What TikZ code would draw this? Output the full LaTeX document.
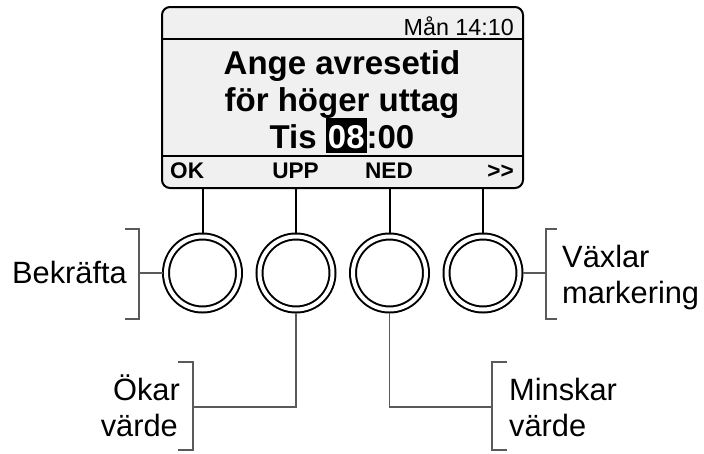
\documentclass[tikz,border=0pt]{standalone}
\usepackage{fontspec}
\setmainfont{Liberation Sans}
\definecolor{screenfill}{HTML}{F0F0F0}
\definecolor{brk}{HTML}{5A5A5A}
\newcommand\hlbox[1]{{\setlength{\fboxsep}{0pt}\colorbox{black}{\hspace{2pt}\rule[-5pt]{0pt}{35pt}\textcolor{white}{#1}\hspace{2pt}}}}
\begin{document}
\begin{tikzpicture}[x=1pt,y=-1pt,
  screenbox/.style={draw,line width=2pt,rounded corners=8pt,fill=screenfill,inner sep=0pt,minimum width=361pt,minimum height=181pt},
  sep/.style={line width=2pt},
  knob/.style={circle,draw,line width=2pt,double,double distance=4pt,minimum size=73pt,inner sep=0pt,outer sep=3pt},
  stem/.style={line width=2pt},
  brline/.style={draw=brk,line width=1.3pt},
  head/.style={font=\fontsize{33}{37}\selectfont\bfseries,inner sep=0pt,anchor=base},
  soft/.style={font=\fontsize{22.6}{26}\selectfont\bfseries,inner sep=0pt},
  lbl/.style={font=\fontsize{30.8}{36}\selectfont,inner sep=0pt}]
\useasboundingbox (0,0) rectangle (704,453);
% screen
\node[screenbox] (screen) at (342.5,97.5) {};
\draw[sep] (screen.west |- 0,39) -- (screen.east |- 0,39);
\draw[sep] (screen.west |- 0,156) -- (screen.east |- 0,156);
\node[font=\fontsize{23.3}{27}\selectfont,inner sep=0pt,anchor=base east] (clock) at (514,35.5) {Mån 14:10};
\node[head] (h1) at (342,74) {Ange avresetid};
\node[head] (h2) at (342,111) {för höger uttag};
\node[head] (h3) at (342,148) {Tis \hlbox{08}:00};
\node[soft,anchor=base west] (ok) at (170,178.5) {OK};
\node[soft,anchor=base] (upp) at (295.5,178.5) {UPP};
\node[soft,anchor=base] (ned) at (389,178.5) {NED};
\node[soft,anchor=base east] (nxt) at (514,178.5) {>\kern0pt>};
% knobs
\node[knob] (b1) at (202.5,273) {};
\node[knob] (b2) at (296,273) {};
\node[knob] (b3) at (389.5,273) {};
\node[knob] (b4) at (483,273) {};
\foreach \b in {b1,b2,b3,b4}
  \draw[stem] (\b.north) -- (\b.north |- screen.south);
% Bekräfta
\coordinate (c1) at (139,273);
\draw[brline] (b1.west) -- (c1);
\draw[brline] (125,229) -- (139,229) -- (139,319) -- (125,319);
\node[lbl,anchor=base east] (bek) at (127,283) {Bekräfta};
% Växlar markering
\coordinate (c4) at (546,273);
\draw[brline] (b4.east) -- (c4);
\draw[brline] (557,229) -- (546,229) -- (546,319) -- (557,319);
\node[lbl,anchor=base west] (vx1) at (562,267) {Växlar};
\node[lbl,anchor=base west] (vx2) at (562,303) {markering};
% Ökar värde
\coordinate (c2) at (193,407);
\draw[brline] (b2.south) |- (c2);
\draw[brline] (178,362) -- (193,362) -- (193,450) -- (178,450);
\node[lbl,anchor=base east] (ok1) at (180,400) {Ökar};
\node[lbl,anchor=base east] (ok2) at (178,436) {värde};
% Minskar värde
\coordinate (c3) at (492,407);
\draw[brline] (b3.south) |- (c3);
\draw[brline] (507,362) -- (492,362) -- (492,450) -- (507,450);
\node[lbl,anchor=base west] (mi1) at (509,400) {Minskar};
\node[lbl,anchor=base west] (mi2) at (509,436) {värde};
\end{tikzpicture}
\end{document}
